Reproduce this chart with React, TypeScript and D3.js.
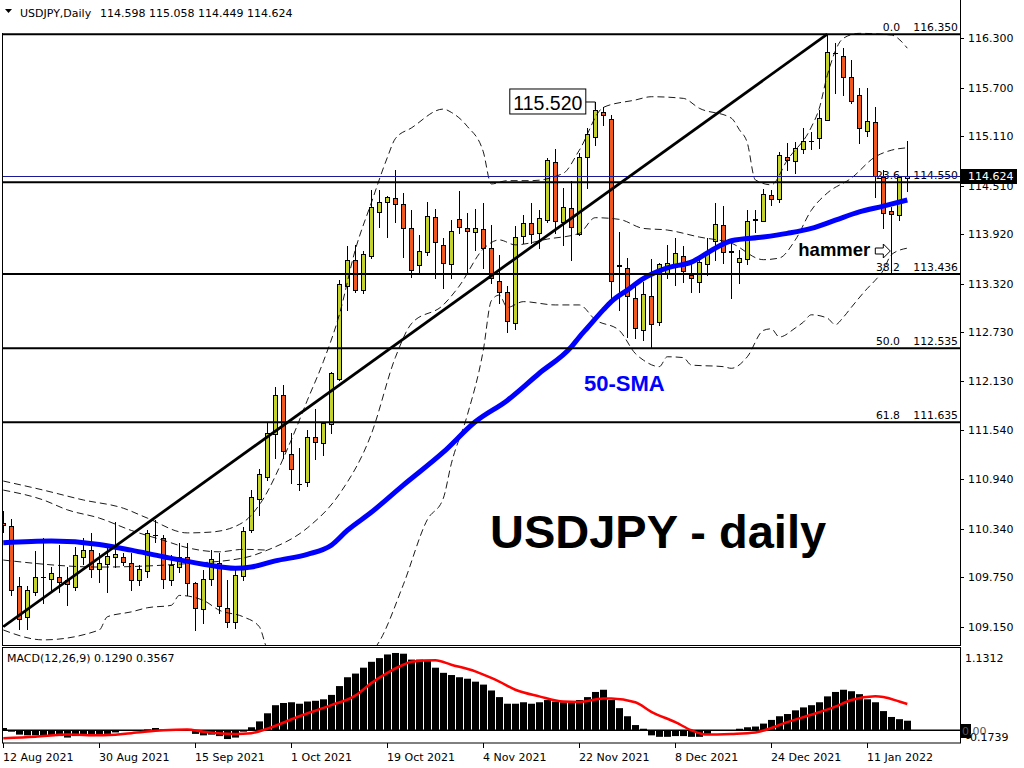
import React from "react";
import * as d3 from "d3";

// ---------- DATA ----------
const dateLabels = ["12 Aug 2021", "30 Aug 2021", "15 Sep 2021", "1 Oct 2021", "19 Oct 2021", "4 Nov 2021", "22 Nov 2021", "8 Dec 2021", "24 Dec 2021", "11 Jan 2022"];
const dateLabelBars = [0, 12, 24, 36, 48, 60, 72, 84, 96, 108];

const openP = [110.41,110.37,109.64,109.27,109.57,109.76,109.73,109.75,109.72,109.63,110.00,110.08,109.85,109.91,110.00,110.00,109.92,109.72,109.83,110.27,110.23,109.72,109.88,110.00,109.68,109.36,109.73,109.92,109.38,109.21,109.77,110.32,110.70,110.97,111.49,111.97,111.25,110.88,110.91,111.46,111.38,111.61,112.16,113.29,113.61,113.24,113.65,114.19,114.31,114.36,114.29,113.99,113.55,113.70,114.13,113.79,113.56,114.10,113.99,113.95,113.98,113.75,113.35,113.22,112.84,113.90,114.06,113.93,114.09,114.80,114.07,114.24,113.92,114.86,115.10,115.40,115.32,113.54,113.51,113.14,112.76,113.17,112.85,113.45,113.56,113.65,113.42,113.34,113.56,113.84,114.03,113.71,113.58,113.62,114.09,114.08,114.40,114.35,114.86,114.81,114.95,115.05,115.09,115.31,116.12,116.09,115.83,115.61,115.17,115.28,114.61,114.20,114.15,114.598];
const highP = [110.55,110.46,109.75,109.64,110.07,110.23,109.88,110.14,109.88,110.12,110.23,110.29,110.05,110.12,110.42,110.05,110.05,109.90,110.32,110.45,110.26,110.02,110.17,110.17,109.69,109.84,110.08,110.05,109.72,109.86,110.36,110.81,111.07,111.63,112.06,112.09,111.50,111.32,111.54,111.80,111.64,112.24,113.36,113.78,113.79,113.72,114.46,114.46,114.38,114.70,114.42,114.21,113.91,114.31,114.23,113.87,114.09,114.44,114.18,114.23,114.30,114.03,113.67,113.29,114.02,114.15,114.30,114.21,114.85,114.95,114.48,114.57,114.91,115.21,115.52,115.47,115.37,113.95,113.63,113.33,113.34,113.62,113.57,113.79,113.87,113.78,113.57,113.64,113.87,114.30,114.26,113.82,113.73,114.21,114.21,114.47,114.46,114.92,115.03,115.04,115.21,115.16,115.43,116.35,116.24,116.18,116.04,115.70,115.70,115.47,114.70,114.25,114.63,115.058];
const lowP = [110.30,109.53,109.12,109.12,109.53,109.44,109.57,109.57,109.41,109.60,109.91,109.75,109.69,109.57,109.88,109.90,109.60,109.66,109.75,110.18,109.62,109.66,109.81,109.53,109.11,109.19,109.66,109.32,109.15,109.13,109.72,110.30,110.51,110.93,111.20,111.20,110.90,110.81,110.86,111.19,111.24,111.50,112.15,113.00,113.22,113.20,113.63,114.01,113.89,114.07,113.64,113.40,113.45,113.67,113.39,113.27,113.39,113.93,113.45,113.73,113.51,113.33,113.08,112.73,112.77,113.81,113.81,113.75,114.07,113.93,113.79,113.61,113.91,114.48,115.00,115.25,113.12,113.00,112.67,112.66,112.63,112.55,112.82,113.39,113.30,113.34,113.22,113.22,113.42,113.61,113.57,113.14,113.33,113.56,113.95,114.08,114.27,114.31,114.70,114.66,114.91,114.95,114.97,115.31,115.64,115.61,115.51,115.03,115.11,114.37,113.99,113.45,114.09,114.449];
const closeP = [110.38,109.60,109.24,109.60,109.75,109.75,109.80,109.69,109.67,110.02,110.08,109.85,109.92,110.01,110.03,109.94,109.72,109.85,110.29,110.26,109.73,109.90,110.00,109.68,109.38,109.73,109.97,109.40,109.21,109.78,110.31,110.73,111.00,111.50,111.97,111.28,111.07,110.88,111.46,111.39,111.62,112.23,113.31,113.61,113.24,113.68,114.25,114.31,114.37,114.29,113.99,113.48,113.72,114.14,113.82,113.57,113.96,114.01,113.96,113.99,113.75,113.39,113.22,112.86,113.89,114.06,113.92,114.12,114.82,114.08,114.25,114.01,114.86,115.14,115.43,115.37,113.35,113.53,113.17,112.78,113.19,112.83,113.56,113.57,113.69,113.47,113.39,113.58,113.70,114.04,113.70,113.70,113.63,114.08,114.10,114.41,114.35,114.88,114.82,114.97,115.05,115.05,115.33,116.13,116.12,115.83,115.54,115.21,115.29,114.63,114.18,114.16,114.61,114.624];

// 50-period SMA (sampled bars)
const smaIdx = [0,6,12,16,20,25,29,31,34,38,41,43,46,50,55,59,63,67,71,72,73,75,76,78,80,83,86,89,91,95,98,101,104,107,110,113];
const smaVal = [110.17,110.19,110.15,110.08,110.00,109.91,109.86,109.875,109.95,110.03,110.14,110.32,110.54,110.87,111.27,111.64,111.90,112.23,112.55,112.67,112.78,113.00,113.10,113.24,113.38,113.51,113.58,113.75,113.84,113.885,113.93,113.99,114.09,114.19,114.26,114.335];

// Bollinger bands (sampled bars)
const bbUpIdx = [0,5,10,15,18,23,26,30,32,36,38,40,42,44,46,48,49,51,55,56,58,60,61,63,66,70,72,75,79,81,85,87,91,92,93,94,96,98,101,102,103,105,107,111,113];
const bbUpVal = [110.92,110.81,110.69,110.59,110.47,110.29,110.30,110.42,110.63,111.42,111.90,112.37,112.94,113.73,114.30,114.85,115.08,115.21,115.44,115.40,115.23,114.92,114.53,114.57,114.57,114.66,114.94,115.46,115.55,115.59,115.57,115.45,115.33,115.19,115.03,114.58,114.52,114.82,115.22,115.45,115.85,116.30,116.36,116.34,116.18];
const bbMidIdx = [0,12,22,30,33,38,42,46,49,51,55,57,60,62,64,68,72,74,77,80,83,87,91,95,97,99,101,103,106,109,111,113];
const bbMidVal = [109.96,109.875,109.91,109.985,110.08,110.35,110.76,111.49,112.42,112.83,113.06,113.29,113.74,113.85,113.79,113.86,113.93,114.12,114.10,113.99,113.97,113.885,113.81,113.61,113.63,113.85,114.21,114.42,114.60,114.86,114.94,114.97];
const bbLowIdx = [0,5,12,13,16,18,21,22,25,27,30,32,33,37,42,45,47,50,53,55,56,58,60,61,62,63,65,69,72,74,77,79,80,82,83,85,86,90,91,93,95,96,97,99,100,101,103,104,105,106,108,109,110,111,113];
const bbLowVal = [109.11,108.99,109.11,109.27,109.33,109.38,109.41,109.53,109.47,109.35,109.27,109.15,108.88,108.60,108.59,108.74,108.97,109.66,110.45,110.71,111.13,111.72,112.51,113.11,113.18,113.03,113.10,113.06,113.06,112.88,112.75,112.47,112.39,112.31,112.43,112.42,112.33,112.31,112.29,112.43,112.75,112.77,112.67,112.78,112.85,112.94,112.90,112.82,112.91,113.03,113.26,113.36,113.48,113.67,113.75];
const bbExtraIdx = [0,5,8,12,16,20,23,27,30,33];
const bbExtraVal = [110.81,110.69,110.57,110.47,110.32,110.20,110.11,110.06,110.09,110.08];

// MACD
const macdHist = [0.03,-0.02,-0.06,-0.07,-0.07,-0.07,-0.08,-0.08,-0.10,-0.08,-0.07,-0.08,-0.06,-0.05,-0.03,-0.01,-0.01,-0.01,0.01,0.03,0.01,0.00,0.01,0.01,-0.05,-0.07,-0.06,-0.08,-0.12,-0.10,-0.02,0.04,0.12,0.23,0.34,0.37,0.38,0.36,0.39,0.40,0.42,0.48,0.60,0.72,0.77,0.85,0.93,0.98,1.03,1.05,1.04,0.96,0.96,0.94,0.85,0.78,0.75,0.72,0.70,0.66,0.62,0.54,0.45,0.36,0.36,0.38,0.36,0.38,0.41,0.39,0.38,0.38,0.41,0.45,0.52,0.55,0.41,0.30,0.19,0.07,0.02,-0.07,-0.09,-0.09,-0.08,-0.08,-0.09,-0.09,-0.05,-0.01,0.00,0.00,0.02,0.04,0.05,0.09,0.14,0.19,0.22,0.27,0.31,0.34,0.38,0.46,0.52,0.55,0.53,0.49,0.42,0.38,0.26,0.18,0.15,0.129];
const sigIdx = [0,4,8,12,16,20,23,25,29,31,33,37,41,44,46,48,50,51,54,56,59,61,62,64,67,70,72,75,76,79,81,84,86,88,91,94,96,98,101,104,106,109,110,112,113];
const sigVal = [-0.11,-0.09,-0.06,-0.07,-0.04,0.00,0.01,-0.02,-0.05,-0.04,0.02,0.19,0.34,0.47,0.64,0.78,0.89,0.93,0.95,0.89,0.80,0.71,0.66,0.55,0.46,0.39,0.385,0.43,0.43,0.38,0.25,0.11,0.00,-0.06,-0.05,-0.03,0.03,0.11,0.21,0.32,0.41,0.46,0.45,0.39,0.357];

// Axis / levels
const priceTicks = [116.3, 115.7, 115.11, 114.51, 113.92, 113.32, 112.73, 112.13, 111.54, 110.94, 110.34, 109.75, 109.15];
const fibLevels = [116.35, 114.55, 113.436, 112.535, 111.635];
const fibPct = ["0.0", "23.6", "38.2", "50.0", "61.8"];
const trendIdx = [0, 103];
const trendVal = [109.15, 116.35];
const lastPrice = 114.624;
const headerValues = "114.598 115.058 114.449 114.624";
const macdLabel = "MACD(12,26,9) 0.1290 0.3567";
const swingHighBar = 74;
const swingHigh = 115.52;
const hammerBar = 111;

const FONT = "'DejaVu Sans', Verdana, sans-serif";
const ARIAL = "'Liberation Sans', Arial, sans-serif";
const BULL = "#c3d22d";
const BEAR = "#f2571f";

export default function App() {
  const N = openP.length;
  const x = d3.scaleLinear().domain([0, N - 1]).range([3.3, 907.3]);
  const y = d3.scaleLinear().domain([109.15, 116.3]).range([626.7, 38.3]);
  const ym = d3.scaleLinear().domain([-0.1739, 1.1312]).range([743, 647]);

  const mkLine = (idx: number[], vals: number[], ys: (v: number) => number, curve: any = d3.curveMonotoneX) =>
    d3.line<number>().x((_, k) => x(idx[k])).y((v) => ys(v)).curve(curve)(vals) || "";

  const cx = (i: number) => Math.round(x(i));

  const candles = openP.map((o, i) => {
    const c = closeP[i];
    const h = highP[i];
    const l = lowP[i];
    const X = cx(i);
    const top = Math.round(y(Math.max(o, c)));
    const bot = Math.round(y(Math.min(o, c)));
    const bull = c >= o;
    return (
      <g key={i}>
        <line x1={X + 0.5} x2={X + 0.5} y1={Math.round(y(h))} y2={Math.round(y(l)) + 1} stroke="#000" strokeWidth={1} />
        {bot - top >= 1 ? (
          <rect x={X - 1.5} y={top + 0.5} width={4} height={bot - top} fill={bull ? BULL : BEAR} stroke="#000" strokeWidth={1} />
        ) : (
          <line x1={X - 2} x2={X + 3} y1={top + 0.5} y2={top + 0.5} stroke="#000" strokeWidth={1} />
        )}
      </g>
    );
  });

  const hx = x(swingHighBar);
  const hy = y(swingHigh);
  const hamX = x(hammerBar);
  const arrowY = 251;

  return (
    <svg width={1024} height={768} style={{ position: "absolute", left: 0, top: 0, background: "#fff" }}>
      <defs>
        <clipPath id="mainClip"><rect x={3} y={0} width={957} height={645} /></clipPath>
        <clipPath id="macdClip"><rect x={3} y={647} width={957} height={96} /></clipPath>
      </defs>
      <rect x={0} y={0} width={1024} height={768} fill="#fff" />

      {/* header */}
      <path d="M5,9 L12,9 L8.5,13 Z" fill="#000" />
      <text x={20} y={17} fontFamily={FONT} fontSize={11} fill="#000">USDJPY,Daily</text>
      <text x={100} y={17} fontFamily={FONT} fontSize={11} fill="#000">{headerValues}</text>

      {/* fib labels (under candles) */}
      {fibLevels.map((f, k) => (
        <g key={"fl" + k}>
          <text x={900} y={y(f) - 3} textAnchor="end" fontFamily={FONT} fontSize={10.8} fill="#000">{fibPct[k]}</text>
          <text x={958} y={y(f) - 3} textAnchor="end" fontFamily={FONT} fontSize={10.8} fill="#000">{f.toFixed(3)}</text>
        </g>
      ))}

      <g clipPath="url(#mainClip)">
        {candles}
        {/* Bollinger */}
        {[[bbUpIdx, bbUpVal], [bbMidIdx, bbMidVal], [bbLowIdx, bbLowVal], [bbExtraIdx, bbExtraVal]].map((b, k) => (
          <path key={"bb" + k} d={mkLine(b[0] as number[], b[1] as number[], y)} fill="none" stroke="#000" strokeWidth={0.9} strokeDasharray="7,4" />
        ))}
        {/* 50 SMA */}
        <path d={mkLine(smaIdx, smaVal, y)} fill="none" stroke="#0000ff" strokeWidth={5} strokeLinejoin="round" />
        {/* fib horizontal lines */}
        {fibLevels.map((f, k) => (
          <line key={"fh" + k} x1={3} x2={960} y1={y(f)} y2={y(f)} stroke="#000" strokeWidth={2} />
        ))}
        {/* bid line */}
        <line x1={3} x2={960} y1={Math.round(y(lastPrice)) + 0.5} y2={Math.round(y(lastPrice)) + 0.5} stroke="#1a1a99" strokeWidth={1} />
        {/* trend line */}
        <path d={mkLine(trendIdx, trendVal, y, d3.curveLinear)} fill="none" stroke="#000" strokeWidth={2.8} />
      </g>

      {/* frame main */}
      <line x1={2.5} x2={2.5} y1={33} y2={645} stroke="#000" strokeWidth={1} />
      <line x1={960.5} x2={960.5} y1={0} y2={645} stroke="#000" strokeWidth={1} />
      <line x1={2} x2={961} y1={645.5} y2={645.5} stroke="#000" strokeWidth={1} />

      {/* price axis */}
      {priceTicks.map((p, k) => (
        <g key={"pt" + k}>
          <line x1={960} x2={964} y1={Math.round(y(p)) + 0.5} y2={Math.round(y(p)) + 0.5} stroke="#000" />
          <text x={968} y={y(p) + 4} fontFamily={FONT} fontSize={11} fill="#000">{p.toFixed(3)}</text>
        </g>
      ))}
      <rect x={961} y={169} width={56} height={15} fill="#000" />
      <text x={968} y={y(lastPrice) + 4} fontFamily={FONT} fontSize={11} fill="#fff">{lastPrice.toFixed(3)}</text>

      {/* annotations */}
      <rect x={hx - 85.5} y={hy - 13.5} width={76} height={25} fill="#fff" stroke="#000" strokeWidth={1} />
      <text x={hx - 82} y={hy + 7.5} fontFamily={ARIAL} fontSize={19.5} fill="#000">{swingHigh.toFixed(3)}</text>
      <polyline points={`${hx - 9.5},${hy - 0.5} ${hx},${hy - 0.5} ${hx},${hy + 7}`} fill="none" stroke="#000" strokeWidth={1} />

      <text x={584} y={391} fontFamily={ARIAL} fontWeight="bold" fontSize={22} fill="#0000ff">50-SMA</text>
      <text x={hamX - 93} y={256} fontFamily={ARIAL} fontWeight="bold" fontSize={18.5} fill="#000">hammer</text>
      <path
        d={`M${hamX - 16},${arrowY - 3} L${hamX - 8},${arrowY - 3} L${hamX - 8},${arrowY - 7} L${hamX - 1},${arrowY} L${hamX - 8},${arrowY + 7} L${hamX - 8},${arrowY + 3} L${hamX - 16},${arrowY + 3} Z`}
        fill="#fff" stroke="#000" strokeWidth={1}
      />
      <text x={490} y={548} fontFamily={ARIAL} fontWeight="bold" fontSize={47} fill="#000">USDJPY - daily</text>

      {/* MACD panel */}
      <g clipPath="url(#macdClip)">
        {macdHist.map((v, i) => {
          const y0 = ym(0);
          const y1 = ym(v);
          return <rect key={"mh" + i} x={cx(i) - 3} y={Math.min(y0, y1)} width={7} height={Math.abs(y1 - y0)} fill="#000" />;
        })}
        <line x1={3} x2={960} y1={ym(0)} y2={ym(0)} stroke="#000" strokeWidth={1.5} />
        <path d={mkLine(sigIdx, sigVal, ym)} fill="none" stroke="#ff0000" strokeWidth={2.5} />
      </g>
      <rect x={2.5} y={647.5} width={958} height={95.5} fill="none" stroke="#000" strokeWidth={1} />
      <text x={7} y={662} fontFamily={FONT} fontSize={11} fill="#000">{macdLabel}</text>
      <text x={965} y={662} fontFamily={FONT} fontSize={11} fill="#000">1.1312</text>
      <text x={966} y={741} fontFamily={FONT} fontSize={11} fill="#000">-0.1739</text>
      <rect x={961} y={724} width={10} height={14} fill="#000" />
      <text x={962} y={735} fontFamily={FONT} fontSize={11} fill="#555">0.00</text>

      {/* date axis */}
      {dateLabelBars.map((b, k) => (
        <g key={"dl" + k}>
          <line x1={cx(b) + 0.5} x2={cx(b) + 0.5} y1={743} y2={748} stroke="#000" />
          <text x={cx(b)} y={761} fontFamily={FONT} fontSize={11} fill="#000">{dateLabels[k]}</text>
        </g>
      ))}
    </svg>
  );
}
